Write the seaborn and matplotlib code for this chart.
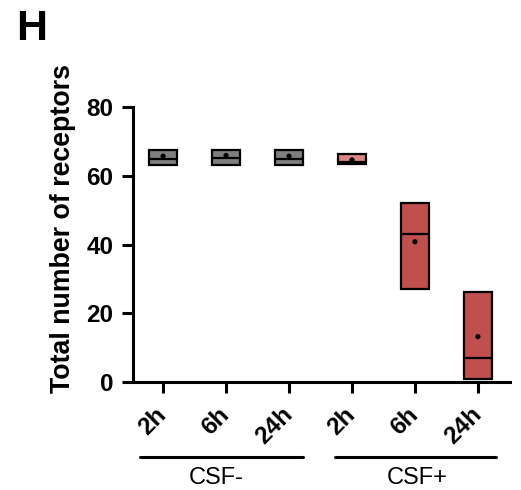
import numpy as np
import pandas as pd
import matplotlib
matplotlib.use("Agg")
import matplotlib.pyplot as plt
import matplotlib.transforms as mtransforms
import seaborn as sns

# values
conditions = ["CSF-", "CSF-", "CSF-", "CSF+", "CSF+", "CSF+"]
times = ["2h", "6h", "24h", "2h", "6h", "24h"]
low = [63.0, 63.2, 63.0, 63.5, 27.0, 0.8]
high = [67.5, 67.6, 67.5, 66.3, 52.2, 26.2]
median = [65.0, 65.2, 65.0, 64.0, 43.2, 7.0]
mean = [65.7, 65.9, 65.7, 64.6, 40.8, 13.2]
colors = ["#7f7f7f", "#7f7f7f", "#7f7f7f", "#d98585", "#c0504d", "#c0504d"]

df = pd.DataFrame({"condition": conditions, "time": times, "low": low,
                   "high": high, "median": median, "mean": mean})
df["x"] = np.arange(len(df))

sns.set_style("ticks", {"axes.edgecolor": "black", "text.color": "black",
                        "axes.labelcolor": "black", "xtick.color": "black",
                        "ytick.color": "black"})
plt.rcParams["font.family"] = ["Liberation Sans", "DejaVu Sans"]

fig = plt.figure(figsize=(5.21, 4.90), dpi=100)
ax = fig.add_axes([0.255, 0.2204, 0.724, 0.5612])

width = 0.45
ax.bar(df["x"], df["high"] - df["low"], bottom=df["low"], width=width,
       color=colors, edgecolor="black", linewidth=1.6, zorder=2)
ax.hlines(df["median"], df["x"] - width / 2, df["x"] + width / 2,
          color="black", linewidth=1.6, zorder=3)
sns.scatterplot(data=df, x="x", y="mean", color="black", s=14,
                edgecolor="none", zorder=4, ax=ax, legend=False)

ax.set_xlim(-0.48, 5.51)
ax.set_ylim(0, 80)
ax.set_yticks([0, 20, 40, 60, 80])
ax.set_xticks(df["x"])
ax.set_xticklabels(df["time"], rotation=45, ha="right", va="center",
                   rotation_mode="anchor", fontsize=17.5, fontweight="bold")
for lab in ax.get_yticklabels():
    lab.set_fontsize(17.5)
    lab.set_fontweight("bold")
ax.set_xlabel("")
ax.set_ylabel("Total number of receptors", fontsize=19.3, fontweight="bold")
ax.yaxis.set_label_coords(-0.152, 0.56)

sns.despine(ax=ax)
for side in ["left", "bottom"]:
    ax.spines[side].set_linewidth(2.2)
ax.tick_params(axis="both", width=2.2, length=8)
ax.tick_params(axis="y", pad=6)
ax.tick_params(axis="x", pad=13)

# group brackets under the time labels
trans = mtransforms.blended_transform_factory(ax.transData, ax.transAxes)
groups = [("CSF-", -0.365, 2.22, 0.84), ("CSF+", 2.73, 5.29, 4.03)]
for name, x0, x1, xc in groups:
    ax.plot([x0, x1], [-0.273, -0.273], color="black", linewidth=2.2,
            transform=trans, clip_on=False)
    ax.text(xc, -0.35, name, transform=trans, ha="center", va="center",
            fontsize=17)

fig.text(0.031, 0.941, "H", fontsize=31, fontweight="bold", ha="left",
         va="center")

fig.savefig("out.png", dpi=100)
